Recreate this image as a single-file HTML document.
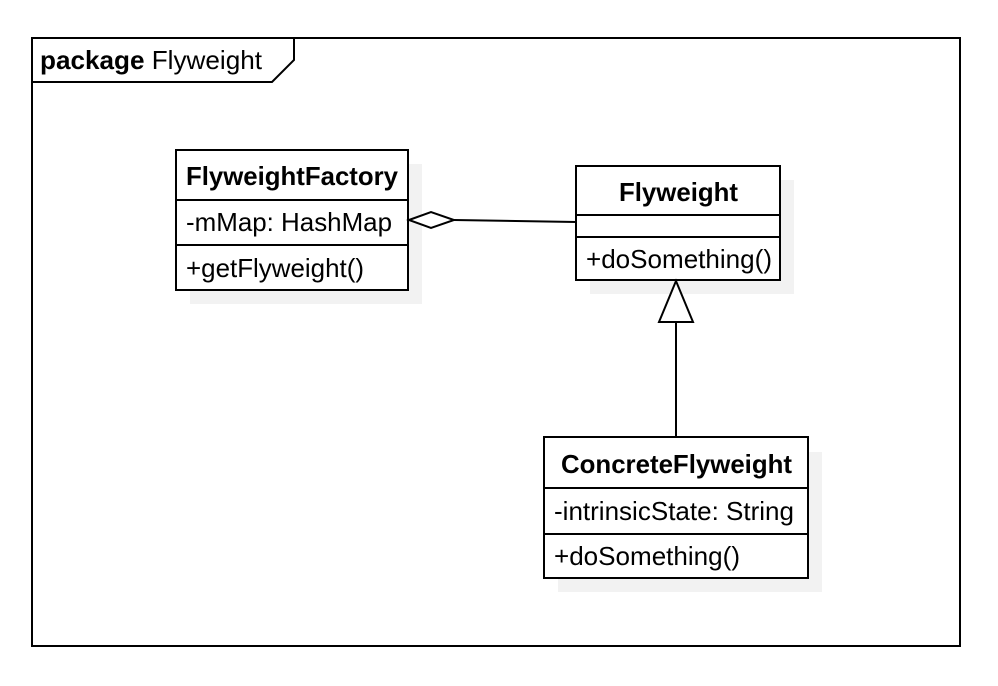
<!DOCTYPE html>
<html><head><style>body{margin:0;background:#fff}svg{display:block}text{font-family:"Liberation Sans",sans-serif;font-size:26px;fill:#000}</style></head><body>
<svg width="998" height="686" viewBox="0 0 998 686">
<rect x="32" y="38" width="928" height="608" fill="none" stroke="#000" stroke-width="2"/>
<polyline points="32,82 272,82 294,60 294,38" fill="none" stroke="#000" stroke-width="2"/>
<text x="40" y="69" textLength="222" lengthAdjust="spacingAndGlyphs"><tspan font-weight="bold">package</tspan> Flyweight</text>
<rect x="190" y="164" width="232" height="140" fill="#f2f2f2"/>
<rect x="590" y="180" width="204" height="114" fill="#f2f2f2"/>
<rect x="558" y="452" width="264" height="140" fill="#f2f2f2"/>
<rect x="176" y="150" width="232" height="140" fill="#fff" stroke="#000" stroke-width="2"/>
<line x1="176" y1="200" x2="408" y2="200" stroke="#000" stroke-width="2"/>
<line x1="176" y1="245" x2="408" y2="245" stroke="#000" stroke-width="2"/>
<text x="186" y="185" font-weight="bold" textLength="212" lengthAdjust="spacingAndGlyphs">FlyweightFactory</text>
<text x="186" y="231" textLength="206" lengthAdjust="spacingAndGlyphs">-mMap: HashMap</text>
<text x="186" y="277" textLength="178" lengthAdjust="spacingAndGlyphs">+getFlyweight()</text>
<rect x="576" y="166" width="204" height="114" fill="#fff" stroke="#000" stroke-width="2"/>
<line x1="576" y1="215" x2="780" y2="215" stroke="#000" stroke-width="2"/>
<line x1="576" y1="237" x2="780" y2="237" stroke="#000" stroke-width="2"/>
<text x="619" y="201" font-weight="bold" textLength="119" lengthAdjust="spacingAndGlyphs">Flyweight</text>
<text x="586" y="268" textLength="186" lengthAdjust="spacingAndGlyphs">+doSomething()</text>
<rect x="544" y="437" width="264" height="141" fill="#fff" stroke="#000" stroke-width="2"/>
<line x1="544" y1="488" x2="808" y2="488" stroke="#000" stroke-width="2"/>
<line x1="544" y1="534" x2="808" y2="534" stroke="#000" stroke-width="2"/>
<text x="561" y="473" font-weight="bold" textLength="231" lengthAdjust="spacingAndGlyphs">ConcreteFlyweight</text>
<text x="554" y="520" textLength="240" lengthAdjust="spacingAndGlyphs">-intrinsicState: String</text>
<text x="554" y="565" textLength="186" lengthAdjust="spacingAndGlyphs">+doSomething()</text>
<line x1="454" y1="220" x2="576" y2="222" stroke="#000" stroke-width="2"/>
<polygon points="409,220 431,212 454,220 431,228" fill="#fff" stroke="#000" stroke-width="2"/>
<line x1="676" y1="322" x2="676" y2="437" stroke="#000" stroke-width="2"/>
<polygon points="676,281 693,322 659,322" fill="#fff" stroke="#000" stroke-width="2"/>
</svg>
</body></html>
